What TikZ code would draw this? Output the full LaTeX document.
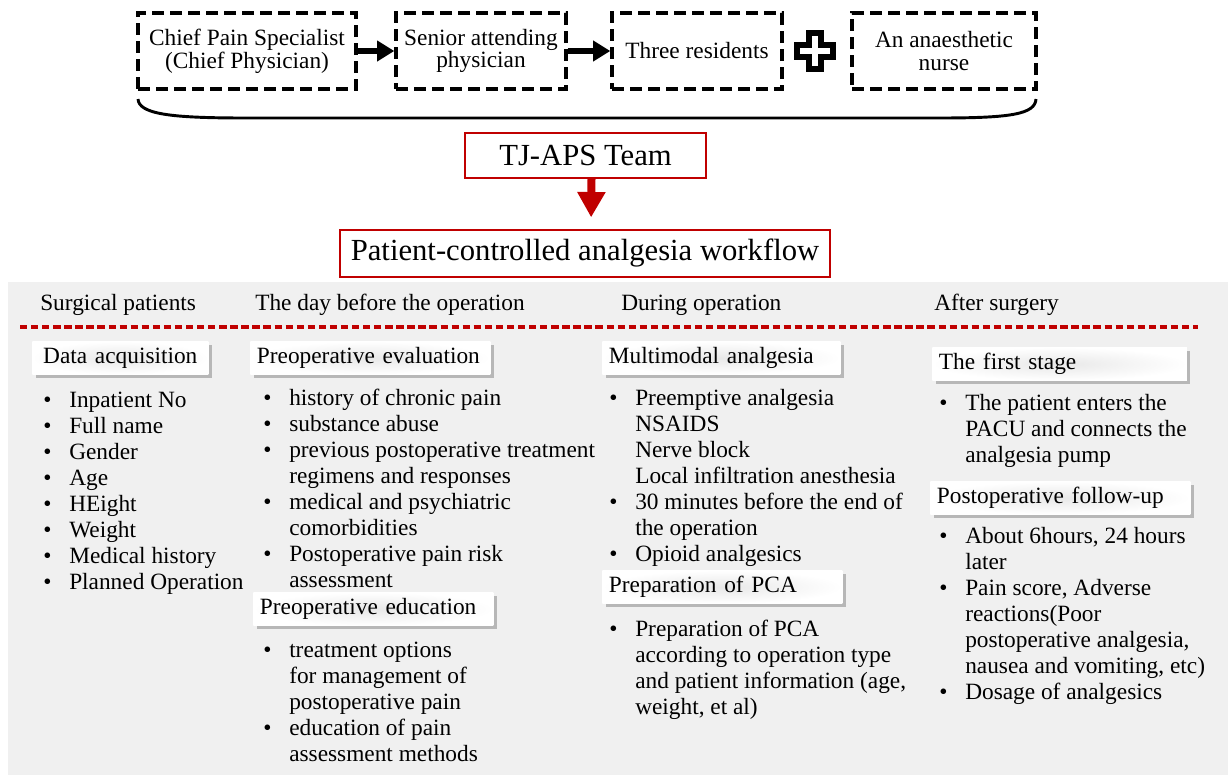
\documentclass[tikz,border=0pt]{standalone}
\usepackage{fontspec}
\setmainfont{Liberation Serif}
\usetikzlibrary{positioning, arrows.meta, shadows}

\definecolor{apsred}{HTML}{C00000}
\definecolor{panelgray}{HTML}{F0F0F0}

% bullet and hanging indent for the item lists
\newcommand{\bul}{\makebox[19.5pt][l]{\textbullet}}
\newcommand{\hang}{\hspace*{19.5pt}}

\begin{document}
\begin{tikzpicture}[
    x=0.75pt, y=-0.75pt,
    memberbox/.style={draw=black, line width=2.5pt, dash pattern=on 9pt off 4.5pt, minimum height=57pt, align=center, font=\fontsize{17.5}{17}\selectfont},
    teambox/.style={draw=apsred, line width=1.2pt, fill=white, font=\fontsize{23}{27}\selectfont},
    colhead/.style={anchor=base west, inner sep=0pt, font=\fontsize{17.5}{19.5}\selectfont},
    stagebox/.style={anchor=west, inner color=black!9, outer color=white, inner xsep=5pt, inner ysep=0pt, minimum height=24.75pt, align=left, font=\fontsize{17.5}{19.5}\selectfont, drop shadow={shadow xshift=2.5pt, shadow yshift=-2.5pt, fill=black!50, opacity=0.5}},
    itemlist/.style={anchor=north west, inner sep=0pt, align=left, font=\fontsize{17.5}{19.5}\selectfont},
    memberarrow/.style={-{Triangle[length=13pt, width=15pt]}, line width=4pt}
]

\useasboundingbox (0,0) rectangle (1228,775);

% Panel
\fill[panelgray] (8,282) rectangle (1228,775);

% === Team members ===
\node[memberbox, minimum width=163.5pt] (chief) at (247,51) {Chief Pain Specialist\\(Chief Physician)};
\node[memberbox, minimum width=127.5pt] (senior) at (481,51) {Senior attending\\physician};
\node[memberbox, minimum width=127.5pt] (resid) at (697,51) {Three residents};
\node[memberbox, minimum width=138pt] (nurse) at (944,51) {An anaesthetic\\nurse};

\draw[memberarrow] (chief) -- (senior);
\draw[memberarrow] (senior) -- (resid);

% Plus sign
\draw[line width=4pt, fill=white, line join=miter]
    (809,33) -- (821,33) -- (821,45) -- (833,45) -- (833,57) -- (821,57) -- (821,69)
    -- (809,69) -- (809,57) -- (797,57) -- (797,45) -- (809,45) -- cycle;

% Brace
\draw[line width=2.2pt] (138,99) .. controls (139,114) and (170,118) .. (245,118)
    -- (940,118) .. controls (1012,118) and (1035,114) .. (1036,99);

% === Team and workflow ===
\node[teambox, minimum width=180.75pt, minimum height=33.75pt] (team) at (585.5,155.5) {TJ-APS Team};
\node[teambox, minimum width=367.5pt, minimum height=35pt] (flow) at (585,253.5) {Patient-controlled analgesia workflow};
\draw[apsred, line width=6pt, -{Triangle[length=19pt, width=20pt]}, shorten >=9pt]
    ([xshift=4.5pt]team.south) -- ([xshift=4.5pt]flow.north);

% === Column headings ===
\node[colhead] (hsurg) at (40,310) {Surgical patients};
\node[colhead] (hday) at (255,310) {The day before the operation};
\node[colhead] (hdur) at (621,310) {During operation};
\node[colhead] (hafter) at (934,310) {After surgery};

\draw[apsred, line width=2.3pt, dash pattern=on 5.5pt off 2.8pt] (20,327) -- (1198,327);

% === Surgical patients ===
\node[stagebox, text width=122pt, align=center] (acq) at (32,358) {Data acquisition};
\node[itemlist] (acqlist) at (43,389) {\strut\bul Inpatient No\\\bul Full name\\\bul Gender\\\bul Age\\\bul HEight\\\bul Weight\\\bul Medical history\\\bul Planned Operation};

% === The day before the operation ===
\node[stagebox, text width=170pt] (eval) at (250,358) {Preoperative evaluation};
\node[itemlist] (evallist) at (263,387) {\strut\bul history of chronic pain\\\bul substance abuse\\\bul previous postoperative treatment\\\hang regimens and responses\\\bul medical and psychiatric\\\hang comorbidities\\\bul Postoperative pain risk\\\hang assessment};

\node[stagebox, text width=170pt] (edu) at (253,609) {Preoperative education};
\node[itemlist] (edulist) at (263,639) {\strut\bul treatment options\\\hang for management of\\\hang postoperative pain\\\bul education of pain\\\hang assessment methods};

% === During operation ===
\node[stagebox, text width=168.5pt] (multi) at (602,358) {Multimodal analgesia};
\node[itemlist] (multilist) at (609,387) {\strut\bul Preemptive analgesia\\\hang NSAIDS\\\hang Nerve block\\\hang Local infiltration anesthesia\\\bul 30 minutes before the end of\\\hang the operation\\\bul Opioid analgesics};

\node[stagebox, text width=170pt] (pca) at (602,587) {Preparation of PCA};
\node[itemlist] (pcalist) at (609,618) {\strut\bul Preparation of PCA\\\hang according to operation type\\\hang and patient information (age,\\\hang weight, et al)};

% === After surgery ===
\node[stagebox, text width=181pt] (first) at (932,364) {The first stage};
\node[itemlist] (firstlist) at (939,392) {\strut\bul The patient enters the\\\hang PACU and connects the\\\hang analgesia pump};

\node[stagebox, text width=185pt] (follow) at (930,498) {Postoperative follow-up};
\node[itemlist] (followlist) at (939,525) {\strut\bul About 6hours, 24 hours\\\hang later\\\bul Pain score, Adverse\\\hang reactions(Poor\\\hang postoperative analgesia,\\\hang nausea and vomiting, etc)\\\bul Dosage of analgesics};

\end{tikzpicture}
\end{document}
